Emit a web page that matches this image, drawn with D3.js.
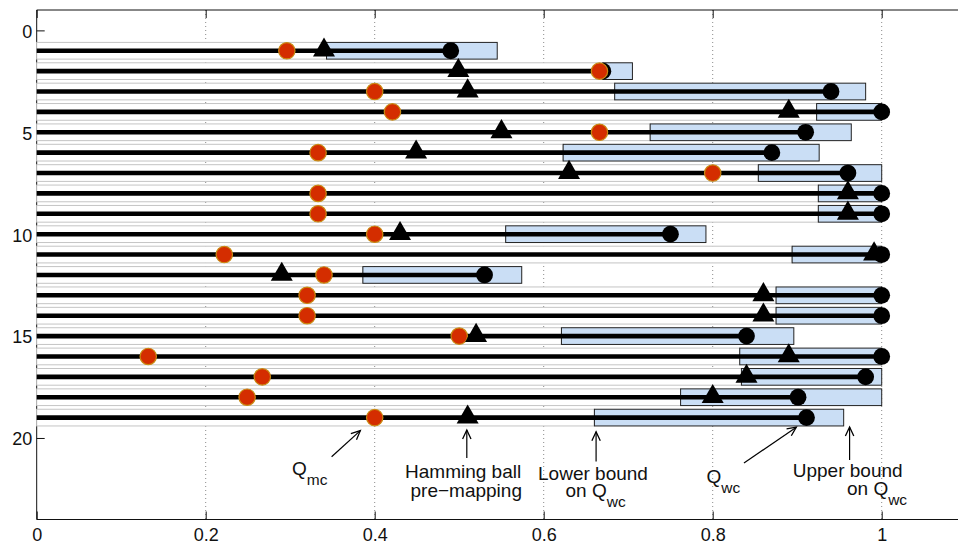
<!doctype html>
<html lang="en">
<head>
  <meta charset="utf-8">
  <title>Q_mc / Q_wc bounds per instance</title>
  <style>
    html, body {
      margin: 0;
      padding: 0;
      background: white;
      overflow: hidden;
    }
    svg text {
      font-family: "Liberation Sans", Arial, Helvetica, sans-serif;
      fill: #111;
    }
  </style>
</head>
<body>
  <div id="chart"></div>

  <script src="https://d3js.org/d3.v7.min.js"></script>
  <script>
    // instances, top to bottom
    const rows = d3.range(1, 20);
    const qmc     = [0.296, 0.666, 0.400, 0.421, 0.666, 0.333, 0.800, 0.333, 0.333, 0.400,
                     0.222, 0.340, 0.320, 0.320, 0.500, 0.132, 0.267, 0.249, 0.400];
    const hamming = [0.340, 0.499, 0.510, 0.890, 0.550, 0.449, 0.630, 0.960, 0.960, 0.430,
                     0.991, 0.290, 0.860, 0.860, 0.520, 0.890, 0.840, 0.800, 0.510];
    const lower   = [0.343, 0.670, 0.684, 0.923, 0.726, 0.623, 0.854, 0.925, 0.925, 0.555,
                     0.894, 0.386, 0.875, 0.875, 0.621, 0.832, 0.834, 0.762, 0.660];
    const qwc     = [0.490, 0.670, 0.940, 1.000, 0.910, 0.870, 0.960, 1.000, 1.000, 0.750,
                     1.000, 0.530, 1.000, 1.000, 0.840, 1.000, 0.981, 0.901, 0.911];
    const upper   = [0.545, 0.705, 0.981, 1.000, 0.964, 0.926, 1.000, 1.000, 1.000, 0.792,
                     1.000, 0.574, 1.000, 1.000, 0.896, 1.000, 1.000, 1.000, 0.955];
    const xTicks = [0, 0.2, 0.4, 0.6, 0.8, 1];
    const yTicks = [0, 5, 10, 15, 20];

    const data = rows.map((r, i) => ({
      row: r, qmc: qmc[i], ham: hamming[i], lo: lower[i], qwc: qwc[i], hi: upper[i]
    }));

    const W = 958, H = 542;
    const x = d3.scaleLinear().domain([0, 1.1]).range([36.7, 36.7 + 1.1 * 845]);
    const y = d3.scaleLinear().domain([-1, 24]).range([10, 519.5]);
    const half = 0.41; // half bar height, in row units

    const svg = d3.select("#chart")
      .append("svg")
      .attr("width", W)
      .attr("height", H);

    // dotted x grid
    svg.append("g")
      .selectAll("line")
      .data(xTicks.filter(d => d > 0))
      .enter().append("line")
      .attr("x1", d => x(d)).attr("x2", d => x(d))
      .attr("y1", y(-1)).attr("y2", y(24))
      .attr("stroke", "#8a8a8a")
      .attr("stroke-width", 1)
      .attr("stroke-dasharray", "1,3");

    // box lines
    const box = svg.append("g").attr("stroke", "#111").attr("stroke-width", 1).attr("fill", "none");
    box.append("line").attr("x1", x(0)).attr("x2", x(1.1)).attr("y1", y(-1)).attr("y2", y(-1));
    box.append("line").attr("x1", x(0)).attr("x2", x(1.1)).attr("y1", y(24)).attr("y2", y(24));
    box.append("line").attr("x1", x(0)).attr("x2", x(0)).attr("y1", y(-1)).attr("y2", y(24));

    // axes, ticks pointing inward
    const fmt = d3.format("~g");
    const gx = svg.append("g")
      .attr("transform", `translate(0,${y(24)})`)
      .call(d3.axisBottom(x).tickValues(xTicks).tickSize(-8).tickPadding(8.4).tickFormat(fmt));
    const gxTop = svg.append("g")
      .attr("transform", `translate(0,${y(-1)})`)
      .call(d3.axisTop(x).tickValues(xTicks).tickSize(-8).tickFormat(""));
    const gy = svg.append("g")
      .attr("transform", `translate(${x(0)},0)`)
      .call(d3.axisLeft(y).tickValues(yTicks).tickSize(-8).tickPadding(4.4).tickFormat(fmt));
    const gyRight = svg.append("g")
      .attr("transform", `translate(${x(1.1)},0)`)
      .call(d3.axisRight(y).tickValues(yTicks).tickSize(-8).tickFormat(""));

    [gx, gxTop, gy, gyRight].forEach(g => {
      g.select(".domain").remove();
      g.attr("font-size", 18).attr("font-family", null);
      g.selectAll(".tick line").attr("stroke", "#111");
      g.selectAll(".tick text").attr("fill", "#111");
    });
    gy.selectAll(".tick text").attr("dy", "0.38em");

    // white bar from 0 to the lower bound
    svg.append("g")
      .selectAll("rect")
      .data(data)
      .enter().append("rect")
      .attr("x", x(0))
      .attr("y", d => y(d.row - half))
      .attr("width", d => x(d.lo) - x(0))
      .attr("height", y(2 * half) - y(0))
      .attr("fill", "white")
      .attr("stroke", "#c4c4c4")
      .attr("stroke-width", 1);

    // blue bar from lower to upper bound on Q_wc
    svg.append("g")
      .selectAll("rect")
      .data(data)
      .enter().append("rect")
      .attr("x", d => x(d.lo))
      .attr("y", d => y(d.row - half))
      .attr("width", d => x(d.hi) - x(d.lo))
      .attr("height", y(2 * half) - y(0))
      .attr("fill", "#cadef5")
      .attr("stroke", "#222")
      .attr("stroke-width", 1);

    // thick line up to Q_wc
    svg.append("g")
      .selectAll("line")
      .data(data)
      .enter().append("line")
      .attr("x1", x(0))
      .attr("x2", d => x(d.qwc))
      .attr("y1", d => y(d.row))
      .attr("y2", d => y(d.row))
      .attr("stroke", "black")
      .attr("stroke-width", 4.6);

    // Q_wc
    svg.append("g")
      .selectAll("circle")
      .data(data)
      .enter().append("circle")
      .attr("cx", d => x(d.qwc))
      .attr("cy", d => y(d.row))
      .attr("r", 8.4)
      .attr("fill", "black");

    // Q_mc
    svg.append("g")
      .selectAll("circle")
      .data(data)
      .enter().append("circle")
      .attr("cx", d => x(d.qmc))
      .attr("cy", d => y(d.row))
      .attr("r", 8.2)
      .attr("fill", "#d42d00")
      .attr("stroke", "#c98a12")
      .attr("stroke-width", 1.2);

    // Hamming ball pre-mapping
    const tri = d3.symbol(d3.symbolTriangle, 210);
    svg.append("g")
      .selectAll("path")
      .data(data)
      .enter().append("path")
      .attr("d", tri)
      .attr("transform", d => `translate(${x(d.ham)},${y(d.row) - 0.5})`)
      .attr("fill", "black");

    // annotations
    svg.append("defs").append("marker")
      .attr("id", "head")
      .attr("viewBox", "-10 -6 12 12")
      .attr("markerWidth", 12)
      .attr("markerHeight", 12)
      .attr("markerUnits", "userSpaceOnUse")
      .attr("orient", "auto")
      .append("path")
      .attr("d", "M-9,-4.2L0,0L-9,4.2")
      .attr("fill", "none")
      .attr("stroke", "black")
      .attr("stroke-width", 1.3);

    const notes = [
      { arrow: [0.349, 20.92, 0.383, 19.64],
        lines: [{ x: 0.3021, y: 21.83, text: "Q", sub: "mc" }] },
      { arrow: [0.509, 20.98, 0.509, 19.61],
        lines: [{ x: 0.4359, y: 21.94, text: "Hamming ball" },
                { x: 0.4424, y: 22.88, text: "pre\u2212mapping" }] },
      { arrow: [0.662, 21.16, 0.662, 19.69],
        lines: [{ x: 0.5933, y: 22.04, text: "Lower bound" },
                { x: 0.6258, y: 22.92, text: "on Q", sub: "wc" }] },
      { arrow: [0.837, 21.23, 0.899, 19.47],
        lines: [{ x: 0.7927, y: 22.20, text: "Q", sub: "wc" }] },
      { arrow: [0.962, 21.08, 0.962, 19.46],
        lines: [{ x: 0.8947, y: 21.91, text: "Upper bound" },
                { x: 0.9589, y: 22.81, text: "on Q", sub: "wc" }] }
    ];

    const ann = svg.append("g");
    notes.forEach(n => {
      ann.append("line")
        .attr("x1", x(n.arrow[0])).attr("y1", y(n.arrow[1]))
        .attr("x2", x(n.arrow[2])).attr("y2", y(n.arrow[3]))
        .attr("stroke", "black")
        .attr("stroke-width", 1.2)
        .attr("marker-end", "url(#head)");
      // one text element per note, one tspan group per line
      const t = ann.append("text").attr("font-size", 19);
      n.lines.forEach(l => {
        t.append("tspan")
          .attr("x", x(l.x))
          .attr("y", y(l.y))
          .text(l.text);
        if (l.sub) {
          t.append("tspan")
            .attr("dy", 10)
            .attr("font-size", 15.5)
            .text(l.sub);
        }
      });
    });
  </script>
</body>
</html>
